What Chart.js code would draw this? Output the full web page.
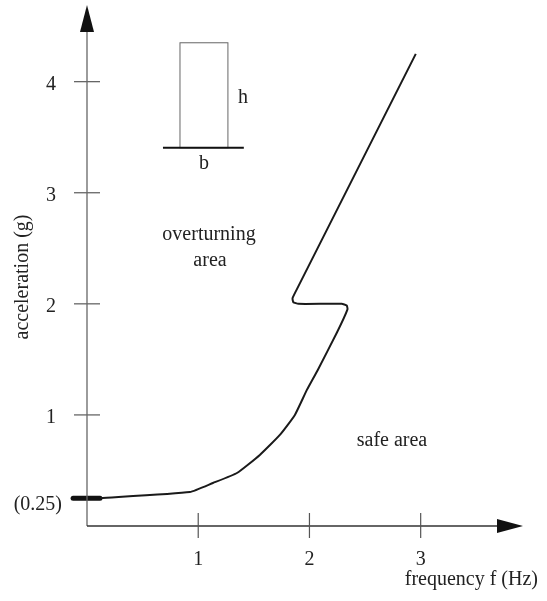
<!DOCTYPE html>
<html>
<head>
<meta charset="utf-8">
<script src="https://cdn.jsdelivr.net/npm/chart.js@4"></script>
<style>
  html, body { margin: 0; padding: 0; background: #fff; }
  #wrap { width: 547px; height: 601px; position: relative; }
</style>
</head>
<body>
<div id="wrap"><canvas id="chart"></canvas></div>
<script>
// limit curve: frequency (Hz) vs acceleration (g)
const curveF = [0.12, 0.925, 1.132, 1.348, 1.554, 1.734, 1.869, 1.977, 2.075, 2.246, 2.342, 2.335, 2.29, 1.90, 1.855, 1.848, 1.884, 2.956];
const curveA = [0.252, 0.306, 0.387, 0.477, 0.64, 0.82, 1.0, 1.225, 1.405, 1.739, 1.95, 1.985, 2.0, 2.0, 2.015, 2.05, 2.126, 4.25];

// thick stub marking the 0.25 g threshold on the axis
const stubF = [-0.125, 0.117];
const stubA = [0.25, 0.25];

const xTicks = [1, 2, 3];
const yTicks = [1, 2, 3, 4];

const ink = '#1a1a1a';

function toPoints(xs, ys) {
    return xs.map((x, i) => ({ x: x, y: ys[i] }));
}

function noPad(s) {
    s.paddingTop = 0; s.paddingBottom = 0;
    s.paddingLeft = 0; s.paddingRight = 0;
}

// axes with arrows, crossing ticks, inset block and free text
const drawing = {
    id: 'drawing',
    afterDraw(chart) {
        const ctx = chart.ctx;
        const sx = chart.scales.x, sy = chart.scales.y;
        const ox = sx.getPixelForValue(0), oy = sy.getPixelForValue(0);
        const right = chart.chartArea.right, top = chart.chartArea.top;
        ctx.save();

        // y axis
        ctx.strokeStyle = '#666';
        ctx.lineWidth = 1.3;
        ctx.beginPath(); ctx.moveTo(ox, oy); ctx.lineTo(ox, top + 20); ctx.stroke();
        yTicks.forEach(v => {
            const p = sy.getPixelForValue(v);
            ctx.beginPath(); ctx.moveTo(ox - 13, p); ctx.lineTo(ox + 13, p); ctx.stroke();
        });
        // x axis
        ctx.strokeStyle = '#333';
        ctx.lineWidth = 1.5;
        ctx.beginPath(); ctx.moveTo(ox, oy); ctx.lineTo(right - 20, oy); ctx.stroke();
        ctx.strokeStyle = '#555';
        ctx.lineWidth = 1.2;
        xTicks.forEach(v => {
            const p = sx.getPixelForValue(v);
            ctx.beginPath(); ctx.moveTo(p, oy - 13); ctx.lineTo(p, oy + 12); ctx.stroke();
        });

        // arrow heads
        ctx.fillStyle = '#111';
        ctx.beginPath();
        ctx.moveTo(ox, top); ctx.lineTo(ox - 7, top + 27); ctx.lineTo(ox + 7, top + 27);
        ctx.closePath(); ctx.fill();
        ctx.beginPath();
        ctx.moveTo(right, oy); ctx.lineTo(right - 26, oy - 7); ctx.lineTo(right - 26, oy + 7);
        ctx.closePath(); ctx.fill();

        // inset block b x h
        const bx0 = sx.getPixelForValue(0.836), bx1 = sx.getPixelForValue(1.267);
        const by0 = sy.getPixelForValue(4.35), by1 = sy.getPixelForValue(3.405);
        ctx.strokeStyle = '#666';
        ctx.lineWidth = 1;
        ctx.strokeRect(bx0, by0, bx1 - bx0, by1 - by0);
        ctx.strokeStyle = '#111';
        ctx.lineWidth = 2.2;
        ctx.beginPath();
        ctx.moveTo(sx.getPixelForValue(0.683), by1);
        ctx.lineTo(sx.getPixelForValue(1.41), by1);
        ctx.stroke();

        // text
        ctx.fillStyle = '#222';
        ctx.font = '20px "Liberation Serif"';
        ctx.textBaseline = 'alphabetic';
        ctx.textAlign = 'center';
        ctx.fillText('h', 243, 103);
        ctx.fillText('b', 204, 169);
        ctx.fillText('overturning', 209, 240);
        ctx.fillText('area', 210, 266);
        ctx.fillText('safe area', 392, 446);
        ctx.textAlign = 'right';
        ctx.fillText('(0.25)', 62, 510);
        ctx.fillText('frequency f (Hz)', 538, 585);

        ctx.translate(28, 277);
        ctx.rotate(-Math.PI / 2);
        ctx.textAlign = 'center';
        ctx.fillText('acceleration (g)', 0, 0);
        ctx.restore();
    }
};

Chart.defaults.font.family = '"Liberation Serif", serif';
Chart.defaults.font.size = 20;
Chart.defaults.color = '#222';

new Chart(document.getElementById('chart'), {
    type: 'line',
    data: {
        datasets: [
            {
                data: toPoints(curveF, curveA),
                borderColor: ink,
                borderWidth: 2,
                borderJoinStyle: 'round',
                pointRadius: 0,
                tension: 0.15,
                fill: false
            },
            {
                data: toPoints(stubF, stubA),
                borderColor: '#111',
                borderWidth: 5,
                borderCapStyle: 'round',
                pointRadius: 0,
                clip: false,
                fill: false
            }
        ]
    },
    options: {
        responsive: true,
        maintainAspectRatio: false,
        animation: false,
        layout: { padding: { left: 0, top: 5, right: 24, bottom: 0 } },
        plugins: { legend: { display: false }, tooltip: { enabled: false } },
        scales: {
            x: {
                type: 'linear',
                min: 0,
                max: 3.92,
                grid: { display: false },
                border: { display: false },
                ticks: { padding: 14 },
                afterBuildTicks: s => { s.ticks = xTicks.map(v => ({ value: v })); },
                afterFit: s => { s.height = 75; noPad(s); }
            },
            y: {
                type: 'linear',
                min: 0,
                max: 4.69,
                grid: { display: false },
                border: { display: false },
                ticks: { padding: 23, labelOffset: 3 },
                afterBuildTicks: s => { s.ticks = yTicks.map(v => ({ value: v })); },
                afterFit: s => { s.width = 87; noPad(s); }
            }
        }
    },
    plugins: [drawing]
});
</script>
</body>
</html>
